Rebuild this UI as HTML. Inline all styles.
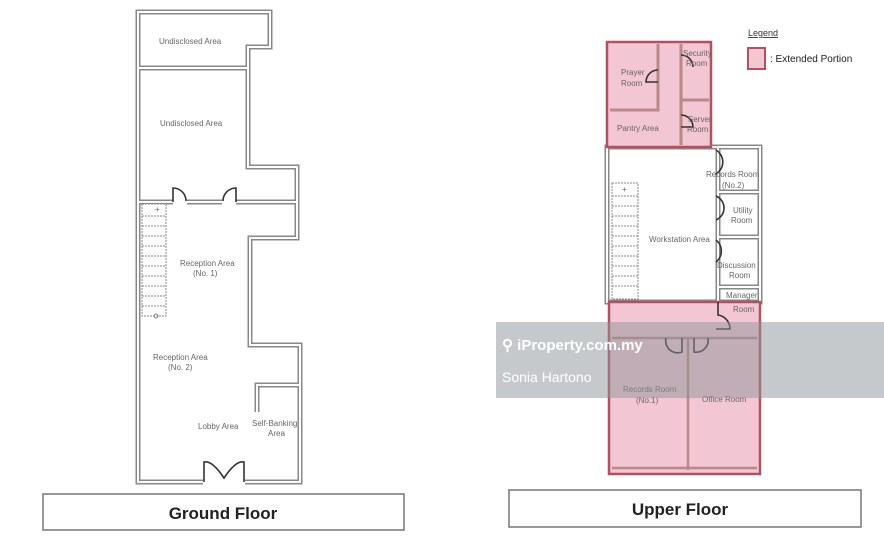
<!DOCTYPE html>
<html><head><meta charset="utf-8"><style>
html,body{margin:0;padding:0;background:#fff;width:884px;height:537px;overflow:hidden}
svg{display:block}
text{font-family:"Liberation Sans",sans-serif;fill:#666;font-size:8px}
.w{fill:none;stroke:#888;stroke-width:5}
.wi{fill:none;stroke:#fff;stroke-width:2}
.d{fill:none;stroke:#333;stroke-width:1.6}
</style></head><body>
<svg width="884" height="537" viewBox="0 0 884 537">
<defs>
<g id="gf">
<path d="M138,12 H270 V47 H248 V167 H297 V202 H138 Z"/>
<path d="M138,68 H248"/>
<path d="M138,202 H297 V238 H250 V345 H300 V482 H138 Z"/>
<path d="M257,412 V385 H300"/>
</g>
<g id="uf">
<path d="M607,147 H760 V302 H607 Z"/>
<path d="M718,147 V302 M718,192 H760 M718,237 H760 M718,287 H760"/>
</g>
</defs>
<g class="w"><use href="#gf"/><use href="#uf"/></g>
<g class="wi"><use href="#gf"/><use href="#uf"/></g>
<rect x="173" y="199" width="14" height="6" fill="#fff"/>
<rect x="222" y="199" width="14" height="6" fill="#fff"/>
<path class="d" d="M173,202 V188 A13,13 0 0 1 186,201 M236,202 V188 A13,13 0 0 0 223,201"/>
<rect x="203" y="478" width="42" height="8" fill="#fff"/>
<path class="d" d="M204,482 V462 Q212,460 224,478 Q236,460 244,462 V482"/>
<rect x="142" y="204" width="24" height="112" fill="#fff" stroke="#888" stroke-width="1" stroke-dasharray="2,1"/>
<g stroke="#888" stroke-width="1" stroke-dasharray="2,1">
<path d="M142,216H166M142,226H166M142,236H166M142,246H166M142,256H166M142,266H166M142,276H166M142,286H166M142,296H166M142,306H166"/>
</g>
<text x="155" y="212">+</text>
<circle cx="156" cy="316" r="2" fill="none" stroke="#888"/>
<text x="159" y="44">Undisclosed Area</text>
<text x="160" y="126">Undisclosed Area</text>
<text x="180" y="266">Reception Area</text>
<text x="193" y="276">(No. 1)</text>
<text x="153" y="360">Reception Area</text>
<text x="168" y="370">(No. 2)</text>
<text x="198" y="429">Lobby Area</text>
<text x="252" y="426">Self-Banking</text>
<text x="268" y="436">Area</text>
<rect x="612" y="183" width="26" height="116" fill="#fff" stroke="#888" stroke-width="1" stroke-dasharray="2,1"/>
<path stroke="#888" stroke-width="1" stroke-dasharray="2,1" d="M612,196H638M612,206H638M612,216H638M612,226H638M612,236H638M612,246H638M612,256H638M612,266H638M612,276H638M612,286H638"/>
<text x="622" y="192">+</text>
<path class="d" d="M716,150 A14,14 0 0 1 716,174 M716,196 A13,13 0 0 1 716,220 M716,240 A14,14 0 0 1 716,262"/>
<text x="706" y="177">Records Room</text>
<text x="722" y="188">(No.2)</text>
<text x="733" y="213">Utility</text>
<text x="731" y="223">Room</text>
<text x="649" y="242">Workstation Area</text>
<text x="717" y="268">Discussion</text>
<text x="729" y="278">Room</text>
<text x="726" y="298">Manager</text>
<rect x="607" y="42" width="104" height="105" fill="#f2c6d2" stroke="#b4505f" stroke-width="2.5"/>
<path d="M658,44 V110 H610 M681,44 V100 M681,100 H709 M681,96 V145" fill="none" stroke="#b88" stroke-width="3"/>
<path class="d" d="M658,70 A12,12 0 0 0 646,82 H658 M681,55 A12,12 0 0 1 693,67 M681,115 A12,12 0 0 1 693,127 H681"/>
<text x="621" y="75">Prayer</text>
<text x="621" y="86">Room</text>
<text x="683" y="56">Security</text>
<text x="686" y="66">Room</text>
<text x="617" y="131">Pantry Area</text>
<text x="688" y="122">Server</text>
<text x="687" y="132">Room</text>
<rect x="609" y="302" width="151" height="172" fill="#f2c6d2" stroke="#b4505f" stroke-width="2.5"/>
<path d="M612,338 H757 M688,338 V470 M612,468 H757" fill="none" stroke="#b88" stroke-width="2.5"/>
<path class="d" d="M718,302 V315 A14,14 0 0 1 730,329 H716 M666,338 A12,12 0 0 0 682,352 V338 M694,338 V352 A12,12 0 0 0 708,338"/>
<text x="733" y="312">Room</text>
<text x="623" y="392">Records Room</text>
<text x="636" y="403">(No.1)</text>
<text x="702" y="402">Office Room</text>
<text x="748" y="36" style="font-size:9px;fill:#333;text-decoration:underline">Legend</text>
<rect x="748" y="48" width="17" height="21" fill="#f2c6d2" stroke="#b4505f" stroke-width="2"/>
<text x="770" y="62" style="font-size:10px;fill:#222">: Extended Portion</text>
<rect x="496" y="322" width="388" height="76" fill="#8e9499" opacity="0.5"/>
<text x="502" y="350" style="fill:#fff;font-size:15px;font-weight:bold">⚲ iProperty.com.my</text>
<text x="502" y="382" style="fill:#fff;font-size:14px">Sonia Hartono</text>
<rect x="43" y="494" width="361" height="36" fill="#fff" stroke="#777" stroke-width="1.5"/>
<text x="223" y="519" text-anchor="middle" style="fill:#222;font-size:17px;font-weight:bold">Ground Floor</text>
<rect x="509" y="490" width="352" height="37" fill="#fff" stroke="#777" stroke-width="1.5"/>
<text x="680" y="515" text-anchor="middle" style="fill:#222;font-size:17px;font-weight:bold">Upper Floor</text>
</svg>
</body></html>
